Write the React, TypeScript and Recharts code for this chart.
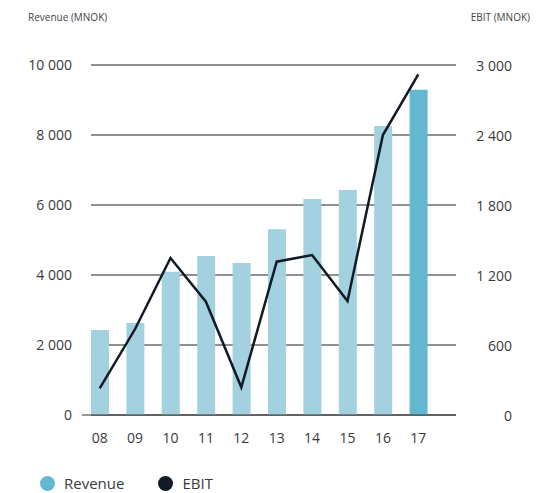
import React from 'react';
import { ComposedChart, Bar, Line, XAxis, YAxis, CartesianGrid, Cell } from 'recharts';

const years = ['08', '09', '10', '11', '12', '13', '14', '15', '16', '17'];
const revenue = [2430, 2630, 4090, 4540, 4340, 5310, 6170, 6430, 8260, 9290];
const ebit = [229, 737, 1346, 971, 237, 1314, 1371, 977, 2400, 2920];
const revenueTicks = [0, 2000, 4000, 6000, 8000, 10000];
const ebitTicks = [0, 600, 1200, 1800, 2400, 3000];

const data = years.map((y, i) => ({ year: y, revenue: revenue[i], ebit: ebit[i] }));

const LIGHT = '#a3d1e0';
const DARK = '#63b8d1';
const NAVY = '#121a25';
const TEXT = '#3a3a3a';
const FONT = '"Open Sans", sans-serif';

const fmt = (n: number) => n.toString().replace(/\B(?=(\d{3})+(?!\d))/g, ' ');

const RightTick = (props: any) => {
  const { x, y, payload } = props;
  return (
    <text x={x + 48} y={y} textAnchor="end" dominantBaseline="central" fill={TEXT} fontSize={14} fontFamily={FONT}>
      {fmt(payload.value)}
    </text>
  );
};

const gridLine = (p: any) => (
  <line key={p.key} x1={p.x1 + 9} x2={p.x2} y1={p.y1} y2={p.y2} stroke="#222" strokeWidth={1} />
);

export default function App() {
  return (
    <div style={{ position: 'absolute', left: 0, top: 0, width: 556, height: 493, background: '#fff', fontFamily: FONT }}>
      <div style={{ position: 'absolute', left: 28, top: 10, fontSize: 10, color: '#444' }}>Revenue (MNOK)</div>
      <div style={{ position: 'absolute', right: 26, top: 10, fontSize: 10, color: '#444' }}>EBIT (MNOK)</div>
      <ComposedChart width={556} height={493} data={data} margin={{ top: 65, right: 0, bottom: 48, left: 0 }} barSize={18}>
        <CartesianGrid yAxisId="left" vertical={false} horizontal={gridLine} />
        <XAxis
          dataKey="year"
          padding={{ left: 0, right: 20 }}
          tickLine={false}
          axisLine={{ stroke: '#333', strokeWidth: 1 }}
          tickMargin={12}
          tick={{ fill: TEXT, fontSize: 14, fontFamily: FONT }}
          height={30}
        />
        <YAxis
          yAxisId="left"
          width={82}
          domain={[0, 10000]}
          ticks={revenueTicks}
          tickFormatter={fmt}
          axisLine={false}
          tickLine={false}
          tickMargin={4}
          tick={{ fill: TEXT, fontSize: 14, fontFamily: FONT }}
          interval={0}
        />
        <YAxis
          yAxisId="right"
          orientation="right"
          width={100}
          domain={[0, 3000]}
          ticks={ebitTicks}
          axisLine={false}
          tickLine={false}
          tick={<RightTick />}
          interval={0}
        />
        <Bar yAxisId="left" dataKey="revenue" name="Revenue" isAnimationActive={false}>
          {data.map((d, i) => (
            <Cell key={d.year} fill={i === data.length - 1 ? DARK : LIGHT} />
          ))}
        </Bar>
        <Line
          yAxisId="right"
          dataKey="ebit"
          name="EBIT"
          type="linear"
          stroke={NAVY}
          strokeWidth={2.5}
          dot={false}
          isAnimationActive={false}
        />
      </ComposedChart>
      <div style={{ position: 'absolute', left: 40, top: 473, display: 'flex', alignItems: 'center', fontSize: 15, color: TEXT }}>
        {[{ name: 'Revenue', color: DARK }, { name: 'EBIT', color: NAVY }].map((it) => (
          <div key={it.name} style={{ display: 'flex', alignItems: 'center', marginRight: 34 }}>
            <span style={{ display: 'inline-block', width: 15, height: 15, borderRadius: '50%', background: it.color, marginRight: 9 }} />
            <span>{it.name}</span>
          </div>
        ))}
      </div>
    </div>
  );
}
